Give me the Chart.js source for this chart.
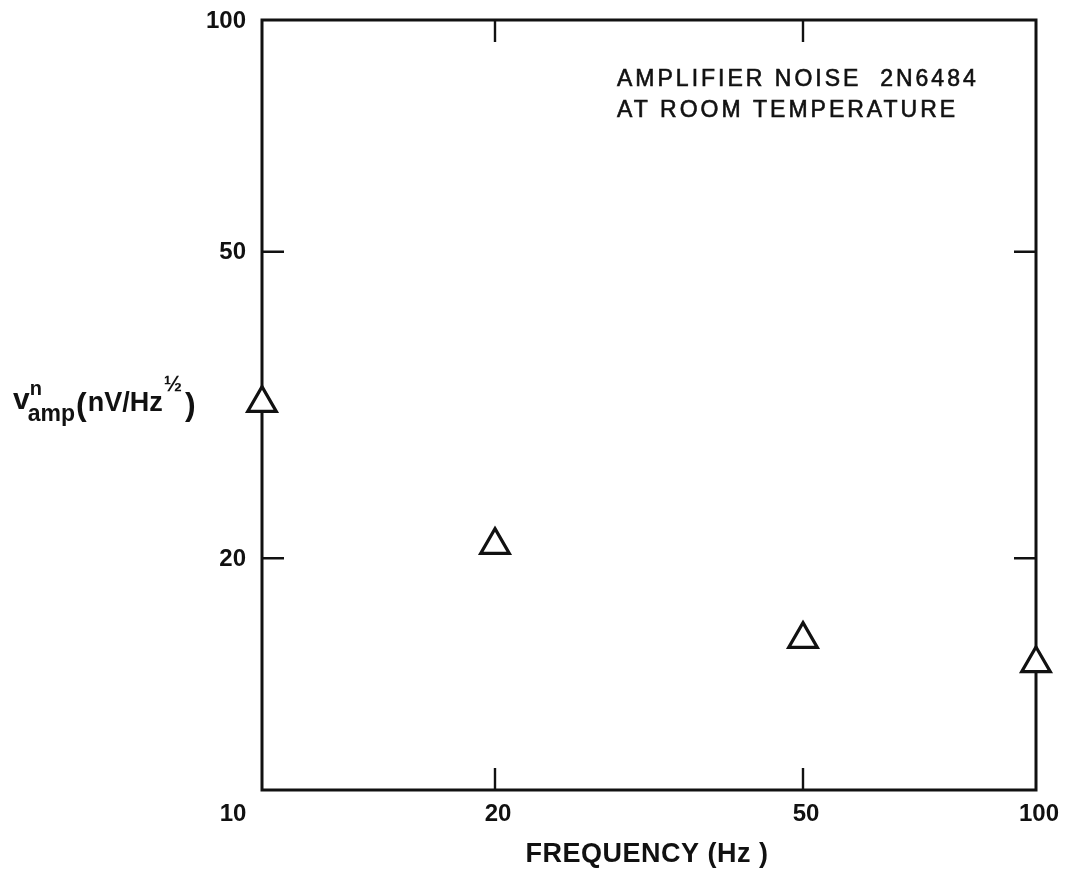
<!DOCTYPE html>
<html>
<head>
<meta charset="utf-8">
<script src="https://cdn.jsdelivr.net/npm/chart.js@4.4.0/dist/chart.umd.min.js"></script>
<style>
  html, body { margin: 0; padding: 0; background: #fff; }
  canvas { display: block; }
</style>
</head>
<body>
<canvas id="chart" width="1072" height="871"></canvas>
<script>
// ─── Data ──────────────────────────────────────────────────────
const FREQ = [10, 20, 50, 100];
const NOISE = [31.8, 20.8, 15.7, 14.6];
const X_TICKS = [10, 20, 50, 100];
const Y_TICKS = [20, 50, 100];          // the corner "10" is shared with the x axis
const NOTE_LINES = ['AMPLIFIER NOISE  2N6484', 'AT ROOM TEMPERATURE'];
const X_TITLE = 'FREQUENCY (Hz )';

const FONT = '"Liberation Sans", Arial, Helvetica, sans-serif';

// ─── Frame: box + inward ticks (drawn under the markers) ───────
const framePlugin = {
    id: 'frame',
    beforeDatasetsDraw(chart) {
        const { ctx, chartArea: a, scales: { x, y } } = chart;
        ctx.save();
        ctx.strokeStyle = '#111';
        ctx.lineWidth = 3;
        ctx.lineJoin = 'miter';
        ctx.strokeRect(a.left, a.top, a.right - a.left, a.bottom - a.top);

        const len = 22;
        ctx.lineWidth = 2.4;
        ctx.beginPath();
        for (const v of X_TICKS) {
            if (v === x.min || v === x.max) continue;
            const px = x.getPixelForValue(v);
            ctx.moveTo(px, a.bottom); ctx.lineTo(px, a.bottom - len);
            ctx.moveTo(px, a.top); ctx.lineTo(px, a.top + len);
        }
        for (const v of Y_TICKS) {
            if (v === y.min || v === y.max) continue;
            const py = y.getPixelForValue(v);
            ctx.moveTo(a.left, py); ctx.lineTo(a.left + len, py);
            ctx.moveTo(a.right, py); ctx.lineTo(a.right - len, py);
        }
        ctx.stroke();
        ctx.restore();
    },
    afterDraw(chart) {
        const { ctx, chartArea: a, scales: { x, y } } = chart;
        ctx.save();
        ctx.fillStyle = '#111';

        // tick labels
        ctx.font = 'bold 24px ' + FONT;
        ctx.textBaseline = 'middle';
        ctx.textAlign = 'center';
        for (const v of X_TICKS) {
            let px = x.getPixelForValue(v);
            if (v === x.min) px -= 32;   // corner label sits left of the axis
            ctx.fillText(String(v), px + 3, a.bottom + 24);
        }
        ctx.textAlign = 'right';
        for (const v of Y_TICKS) {
            ctx.fillText(String(v), a.left - 16, y.getPixelForValue(v) + 1);
        }

        // x title
        ctx.font = 'bold 27px ' + FONT;
        ctx.textAlign = 'center';
        ctx.textBaseline = 'alphabetic';
        ctx.letterSpacing = '0.5px';
        ctx.fillText(X_TITLE, 647, 862);

        // y title: v^n_amp (nV/Hz^1/2)
        ctx.letterSpacing = '0px';
        ctx.textAlign = 'left';
        let cx = 13;
        const base = 409;
        ctx.font = 'bold 30px ' + FONT;
        ctx.fillText('v', cx, base);
        cx += ctx.measureText('v').width - 1;
        ctx.font = 'bold 20px ' + FONT;
        ctx.fillText('n', cx + 1, base - 14);
        ctx.font = 'bold 23px ' + FONT;
        ctx.fillText('amp', cx - 1, base + 12);
        cx += ctx.measureText('amp').width;
        ctx.font = 'bold 32px ' + FONT;
        ctx.fillText('(', cx, base + 6);
        cx += ctx.measureText('(').width + 1;
        ctx.font = 'bold 27px ' + FONT;
        ctx.fillText('nV/Hz', cx, base + 2);
        cx += ctx.measureText('nV/Hz').width + 1;
        ctx.font = 'bold 22px ' + FONT;
        ctx.fillText('\u00BD', cx, base - 18);
        cx += ctx.measureText('\u00BD').width + 3;
        ctx.font = 'bold 32px ' + FONT;
        ctx.fillText(')', cx, base + 6);

        // note in upper right
        ctx.font = '23px ' + FONT;
        ctx.letterSpacing = '3px';
        ctx.lineWidth = 0.6;
        ctx.strokeStyle = '#111';
        ctx.fillText(NOTE_LINES[0], 617, 86);
        ctx.strokeText(NOTE_LINES[0], 617, 86);
        ctx.fillText(NOTE_LINES[1], 617, 117);
        ctx.strokeText(NOTE_LINES[1], 617, 117);
        ctx.restore();
    }
};

new Chart(document.getElementById('chart'), {
    type: 'scatter',
    data: {
        datasets: [{
            data: FREQ.map((f, i) => ({ x: f, y: NOISE[i] })),
            pointStyle: 'triangle',
            pointRadius: 16.5,
            pointHoverRadius: 16.5,
            pointBorderWidth: 3.2,
            pointBackgroundColor: '#fff',
            pointBorderColor: '#111',
            clip: false
        }]
    },
    options: {
        responsive: false,
        animation: false,
        events: [],
        layout: { padding: { left: 262, top: 20, right: 36, bottom: 81 } },
        scales: {
            x: { type: 'logarithmic', min: 10, max: 100, display: false },
            y: { type: 'logarithmic', min: 10, max: 100, display: false }
        },
        plugins: {
            legend: { display: false },
            tooltip: { enabled: false }
        }
    },
    plugins: [framePlugin]
});
</script>
</body>
</html>
